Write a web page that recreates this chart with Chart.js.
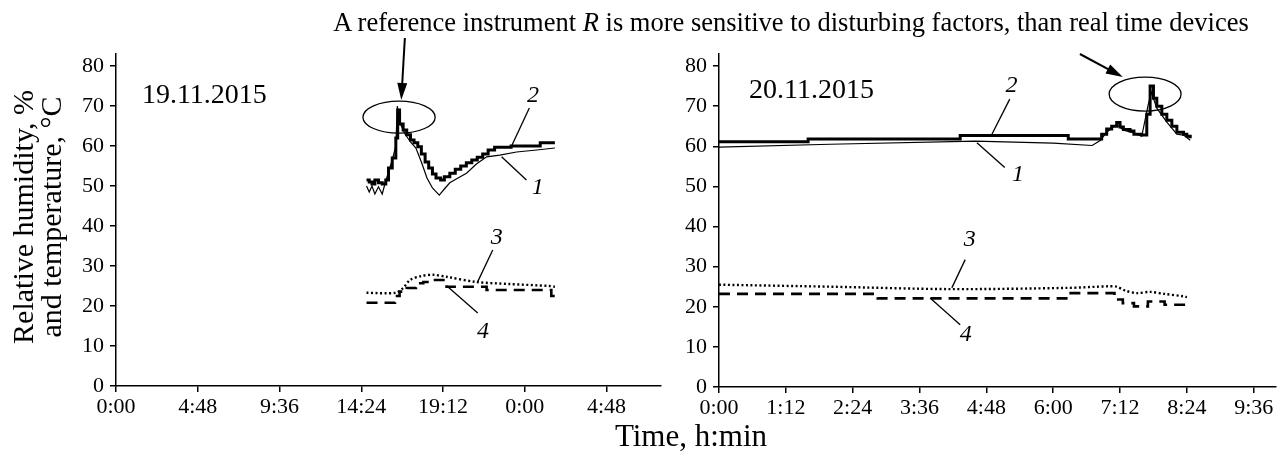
<!DOCTYPE html>
<html>
<head>
<meta charset="utf-8">
<script src="https://cdn.jsdelivr.net/npm/chart.js@4.4.1/dist/chart.umd.min.js"></script>
<style>
  body { margin: 0; background: #fff; width: 1277px; height: 456px; overflow: hidden; position: relative; font-family: "Liberation Serif", serif; color: #000; }
  #leftBox { position: absolute; left: 0; top: 0; width: 670px; height: 456px; }
  #rightBox { position: absolute; left: 670px; top: 0; width: 607px; height: 456px; }
  .note { position: absolute; left: 791px; top: 7px; transform: translateX(-50%); font-size: 26.5px; white-space: nowrap; }
  .xtitle { position: absolute; left: 691px; top: 418px; transform: translateX(-50%); font-size: 31px; white-space: nowrap; }
</style>
</head>
<body>
<div id="leftBox"><canvas id="left"></canvas></div>
<div id="rightBox"><canvas id="right"></canvas></div>
<div class="note">A reference instrument <i>R</i> is more sensitive to disturbing factors, than real time devices</div>
<div class="xtitle">Time, h:min</div>
<script>
// tick positions (hours / value)
const leftTicks = [0, 4.8, 9.6, 14.4, 19.2, 24, 28.8];
const rightTicks = [0, 1.2, 2.4, 3.6, 4.8, 6, 7.2, 8.4, 9.6];
const yTicks = [0, 10, 20, 30, 40, 50, 60, 70, 80];

// 19.11.2015 - hours from midnight of 19.11
const d1RefHours = [14.71, 14.87, 15.03, 15.2, 15.41, 15.63, 15.79, 16.0, 16.22, 16.43, 16.52, 16.65, 16.97, 17.29, 17.61, 17.93, 18.26, 18.58, 18.98, 19.33, 19.6, 20.08, 20.58, 21.16, 21.76, 22.53, 23.52, 24.7, 25.77];
const d1RefHum = [50.0, 48.5, 50.0, 48.0, 49.8, 48.0, 50.5, 53.5, 56.5, 60.0, 70.0, 66.0, 63.0, 61.0, 59.5, 56.0, 52.0, 49.5, 47.7, 49.5, 50.8, 52.0, 53.2, 55.5, 57.3, 57.7, 58.5, 59.0, 59.5];
const d1DevHours = [14.71, 14.87, 15.03, 15.2, 15.41, 15.63, 15.84, 16.0, 16.22, 16.43, 16.54, 16.65, 16.86, 17.07, 17.29, 17.5, 17.72, 17.93, 18.15, 18.36, 18.58, 18.79, 19.06, 19.28, 19.6, 19.92, 20.24, 20.57, 20.89, 21.21, 21.53, 21.85, 22.23, 22.87, 23.2, 24.49, 24.91, 25.77];
const d1DevHum = [51.5, 51.0, 50.5, 51.5, 50.8, 50.5, 51.5, 54.5, 57.0, 62.0, 69.0, 65.5, 64.0, 62.8, 61.5, 60.8, 59.8, 58.0, 56.0, 54.5, 53.0, 52.0, 51.5, 52.3, 53.2, 54.2, 55.0, 55.8, 56.5, 57.2, 58.0, 59.0, 59.7, 59.7, 60.0, 60.0, 60.8, 60.8];
const d1RefTempHours = [14.71, 16.43, 16.86, 17.26, 17.93, 18.62, 19.41, 21.16, 23.09, 25.45, 25.77];
const d1RefTemp = [23.3, 23.3, 24.5, 26.5, 27.5, 27.8, 27.3, 26.0, 25.5, 25.0, 24.8];
const d1DevTempHours = [14.71, 16.38, 16.65, 17.07, 17.61, 18.04, 18.43, 19.01, 19.41, 21.76, 25.45, 25.56, 25.77];
const d1DevTemp = [20.8, 22.5, 23.6, 24.5, 25.7, 26.0, 26.5, 26.5, 24.8, 24.0, 24.0, 22.5, 22.5];

// 20.11.2015
const d2RefHours = [0, 2.0, 4.6, 6.0, 6.7, 6.85, 6.96, 7.05, 7.14, 7.26, 7.4, 7.59, 7.7, 7.76, 7.86, 8.04, 8.22, 8.34, 8.46];
const d2RefHum = [59.8, 60.5, 61.3, 60.8, 60.2, 61.5, 63.5, 64.5, 65.5, 64.0, 63.5, 62.5, 70.0, 73.5, 69.5, 66.0, 63.0, 62.8, 61.5];
const d2DevHours = [0, 1.6, 4.33, 6.27, 6.87, 6.96, 7.05, 7.14, 7.2, 7.26, 7.38, 7.45, 7.59, 7.68, 7.74, 7.8, 7.86, 7.95, 8.04, 8.13, 8.22, 8.34, 8.4, 8.46];
const d2DevHum = [61.1, 61.8, 62.7, 61.8, 63.0, 64.3, 65.0, 65.9, 64.8, 64.2, 63.8, 63.0, 62.8, 68.0, 75.0, 72.0, 70.0, 68.0, 66.5, 65.0, 63.5, 63.0, 62.5, 62.0];
const d2RefTempHours = [0, 2.0, 4.15, 6.24, 7.0, 7.14, 7.3, 7.5, 7.74, 8.0, 8.34, 8.4];
const d2RefTemp = [25.5, 25.0, 24.4, 24.7, 25.1, 25.0, 24.0, 23.4, 23.7, 23.2, 22.6, 22.4];
const d2DevTempHours = [0, 2.85, 6.27, 7.1, 7.25, 7.45, 7.7, 8.0, 8.4];
const d2DevTemp = [23.2, 22.1, 23.4, 21.8, 20.9, 20.1, 21.3, 20.5, 20.3];

const FONT = '"Liberation Serif", "Times New Roman", serif';
const yTitle = ['Relative humidity, %', 'and temperature, °C'];

function pts(xs, ys) {
  return xs.map((x, i) => ({ x: x, y: ys[i] }));
}

function hm(v) {
  const m = Math.round(v * 60);
  return (Math.floor(m / 60) % 24) + ':' + String(m % 60).padStart(2, '0');
}

function sets(refH, refV, devH, devV, rtH, rtV, dtH, dtV) {
  return [
    { data: pts(refH, refV), borderColor: '#000', borderWidth: 1.2, pointRadius: 0, tension: 0 },
    { data: pts(devH, devV), borderColor: '#000', borderWidth: 3, pointRadius: 0, stepped: true },
    { data: pts(rtH, rtV), borderColor: '#000', borderWidth: 2.4, borderDash: [2, 2.5], pointRadius: 0, tension: 0.3 },
    { data: pts(dtH, dtV), borderColor: '#000', borderWidth: 2.6, borderDash: [11, 7], pointRadius: 0, stepped: true }
  ];
}

// annotations in data units
const leftNotes = {
  date: ['19.11.2015', 1.52, 72.5],
  nums: [['2', 24.48, 72.7], ['1', 24.76, 49.5], ['3', 22.36, 37], ['4', 21.55, 13.6]],
  leaders: [[24.27, 69.5, 23.2, 59.75], [22.64, 57.3, 24.1, 51.5], [22.12, 34, 21.24, 26.1], [19.48, 24.8, 21.24, 18.25]],
  ellipse: [16.62, 67.2, 2.12, 4],
  arrow: [16.96, 87, 16.75, 71.5],
  title: yTitle
};
const rightNotes = {
  date: ['20.11.2015', 0.54, 73.75],
  nums: [['2', 5.25, 75.1], ['1', 5.37, 53], ['3', 4.5, 36.75], ['4', 4.43, 13]],
  leaders: [[5.22, 71.75, 4.9, 63], [4.63, 60.9, 5.13, 54.7], [4.42, 31.75, 4.18, 24.7], [3.79, 22.2, 4.33, 15.5]],
  ellipse: [7.65, 73, 0.646, 4.25],
  arrow: [6.48, 83, 7.25, 77.25]
};

const notesPlugin = {
  id: 'notes',
  afterDraw(chart) {
    const n = chart.options.plugins.notes;
    if (!n) return;
    const ctx = chart.ctx, xs = chart.scales.x, ys = chart.scales.y;
    const X = v => xs.getPixelForValue(v), Y = v => ys.getPixelForValue(v);
    ctx.save();
    ctx.fillStyle = '#000';
    ctx.strokeStyle = '#000';
    if (n.title) {
      ctx.save();
      ctx.font = '30px ' + FONT;
      ctx.textAlign = 'center';
      ctx.textBaseline = 'middle';
      const cy = (ys.top + ys.bottom) / 2 - 3;
      [25, 53].forEach((cx, i) => {
        ctx.save();
        ctx.translate(cx, cy);
        ctx.rotate(-Math.PI / 2);
        ctx.fillText(n.title[i], 0, 0);
        ctx.restore();
      });
      ctx.restore();
    }
    ctx.font = '28px ' + FONT;
    ctx.textAlign = 'left';
    ctx.textBaseline = 'middle';
    ctx.fillText(n.date[0], X(n.date[1]), Y(n.date[2]));
    ctx.font = 'italic 24px ' + FONT;
    ctx.textAlign = 'center';
    n.nums.forEach(t => ctx.fillText(t[0], X(t[1]), Y(t[2])));
    ctx.lineWidth = 1.3;
    n.leaders.forEach(l => {
      ctx.beginPath();
      ctx.moveTo(X(l[0]), Y(l[1]));
      ctx.lineTo(X(l[2]), Y(l[3]));
      ctx.stroke();
    });
    const e = n.ellipse;
    ctx.beginPath();
    ctx.ellipse(X(e[0]), Y(e[1]), X(e[0] + e[2]) - X(e[0]), Y(e[1]) - Y(e[1] + e[3]), 0, 0, Math.PI * 2);
    ctx.stroke();
    const a = n.arrow;
    const x1 = X(a[0]), y1 = Y(a[1]), x2 = X(a[2]), y2 = Y(a[3]);
    const ang = Math.atan2(y2 - y1, x2 - x1);
    ctx.lineWidth = 2;
    ctx.beginPath();
    ctx.moveTo(x1, y1);
    ctx.lineTo(x2 - 12 * Math.cos(ang), y2 - 12 * Math.sin(ang));
    ctx.stroke();
    ctx.beginPath();
    ctx.moveTo(x2, y2);
    ctx.lineTo(x2 - 17 * Math.cos(ang) + 5 * Math.sin(ang), y2 - 17 * Math.sin(ang) - 5 * Math.cos(ang));
    ctx.lineTo(x2 - 17 * Math.cos(ang) - 5 * Math.sin(ang), y2 - 17 * Math.sin(ang) + 5 * Math.cos(ang));
    ctx.closePath();
    ctx.fill();
    ctx.restore();
  }
};

function makeChart(id, datasets, xMax, xTicks, yWidth, xHeight, padRight, notes) {
  return new Chart(document.getElementById(id), {
    type: 'line',
    data: { datasets: datasets },
    plugins: [notesPlugin],
    options: {
      responsive: true,
      maintainAspectRatio: false,
      animation: false,
      layout: { padding: { top: 54, right: padRight, left: 0, bottom: 0 } },
      plugins: { legend: { display: false }, tooltip: { enabled: false }, notes: notes },
      scales: {
        x: {
          type: 'linear', min: 0, max: xMax,
          afterBuildTicks: s => { s.ticks = xTicks.map(v => ({ value: v })); },
          afterFit: s => { s.height = xHeight; },
          ticks: { callback: v => hm(v), color: '#000', font: { family: FONT, size: 22 }, maxRotation: 0, autoSkip: false, padding: 2 },
          grid: { display: true, drawOnChartArea: false, tickLength: 6, color: '#000', lineWidth: 1.5 },
          border: { display: true, color: '#000', width: 1.5 }
        },
        y: {
          min: 0, max: 83,
          afterBuildTicks: s => { s.ticks = yTicks.map(v => ({ value: v })); },
          afterFit: s => { s.width = yWidth; },
          ticks: { color: '#000', font: { family: FONT, size: 22 }, padding: 6 },
          grid: { display: true, drawOnChartArea: false, tickLength: 6, color: '#000', lineWidth: 1.5 },
          border: { display: true, color: '#000', width: 1.5 }
        }
      }
    }
  });
}

makeChart('left', sets(d1RefHours, d1RefHum, d1DevHours, d1DevHum, d1RefTempHours, d1RefTemp, d1DevTempHours, d1DevTemp),
  32, leftTicks, 116, 70, 9, leftNotes);
makeChart('right', sets(d2RefHours, d2RefHum, d2DevHours, d2DevHum, d2RefTempHours, d2RefTemp, d2DevTempHours, d2DevTemp),
  10, rightTicks, 49, 69, 1, rightNotes);
</script>
</body>
</html>
